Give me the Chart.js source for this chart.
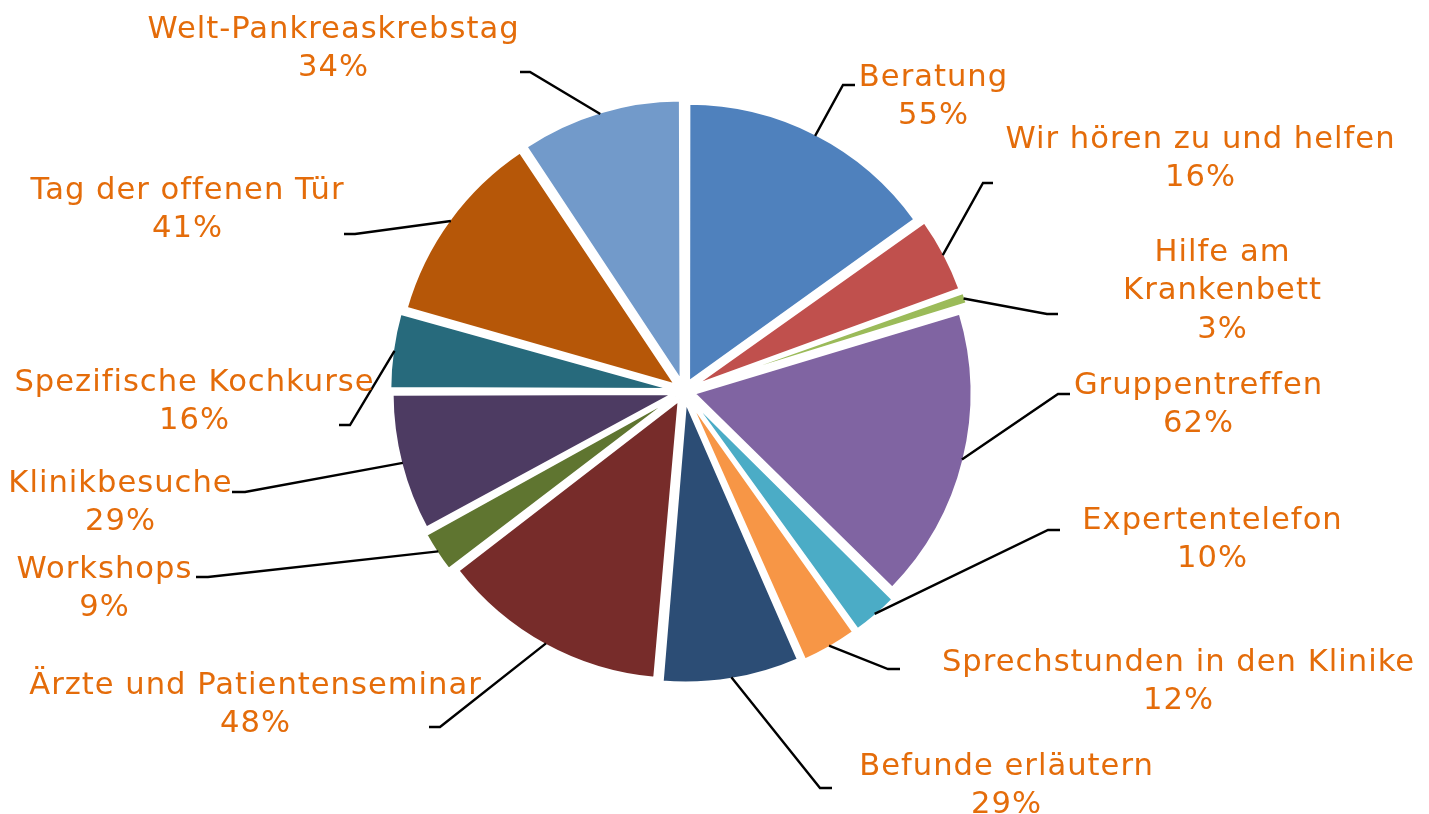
<!DOCTYPE html>
<html>
<head>
<meta charset="utf-8">
<script src="https://cdn.jsdelivr.net/npm/chart.js@4.4.1/dist/chart.umd.min.js"></script>
<style>
html,body{margin:0;padding:0;background:#fff;}
#wrap{width:1429px;height:814px;position:relative;}
</style>
</head>
<body>
<div id="wrap"><canvas id="c" width="1429" height="814"></canvas></div>
<script>
// ---- data ----
const categories = ['Beratung','Wir hören zu und helfen','Hilfe am Krankenbett','Gruppentreffen','Expertentelefon','Sprechstunden in den Klinike','Befunde erläutern','Ärzte und Patientenseminar','Workshops','Klinikbesuche','Spezifische Kochkurse','Tag der offenen Tür','Welt-Pankreaskrebstag'];
const values = [55,16,3,62,10,12,29,48,9,29,16,41,34];
const percentLabels = ['55%','16%','3%','62%','10%','12%','29%','48%','9%','29%','16%','41%','34%'];

// ---- styles ----
const colors = ['#4F81BD','#C0504D','#9BBB59','#8064A2','#4BACC6','#F79646','#2C4D75','#772C2A','#5F7530','#4D3B62','#276A7C','#B65708','#729ACA'];
const labelColor = '#E46C0A';
const labelFont = '30.6px "DejaVu Sans", Verdana, sans-serif';
const lineHeight = 38.5;

// ---- label layout (text block centre x, first line centre y, elbow x/y, tail end x) ----
const labelLayout = [
  {cx:933, y:78,  ex:843, ey:85,  tx:855},
  {cx:1200,y:140, ex:983, ey:183, tx:993},
  {cx:1222,y:253, ex:1047,ey:314, tx:1058, lines:['Hilfe am','Krankenbett']},
  {cx:1198,y:386, ex:1058,ey:394, tx:1070},
  {cx:1212,y:521, ex:1048,ey:530, tx:1060},
  {cx:1178,y:663, ex:888, ey:669, tx:900},
  {cx:1006,y:767, ex:820, ey:788, tx:832},
  {cx:255, y:686, ex:440, ey:727, tx:429},
  {cx:104, y:570, ex:208, ey:577, tx:196},
  {cx:120, y:484, ex:245, ey:492, tx:232},
  {cx:194, y:383, ex:350, ey:425, tx:339},
  {cx:187, y:191, ex:355, ey:234, tx:344},
  {cx:333, y:30,  ex:530, ey:72,  tx:520}
];

const explode = 10; // px translation of each slice

const labelPlugin = {
  id:'pieLabels',
  afterDatasetsDraw(chart){
    const ctx = chart.ctx;
    const meta = chart.getDatasetMeta(0);
    ctx.save();
    meta.data.forEach((arc,i)=>{
      const p = arc.getProps(['x','y','startAngle','endAngle','outerRadius'],true);
      const mid = (p.startAngle+p.endAngle)/2;
      const circ = p.endAngle - p.startAngle;
      const fix = 1 - Math.sin(Math.min(Math.PI, circ));
      const L = labelLayout[i];
      const r = p.outerRadius + explode * (1 + fix) - 2;
      const sx = p.x + Math.cos(mid)*r;
      const sy = p.y + Math.sin(mid)*r;
      ctx.beginPath();
      ctx.strokeStyle = '#000';
      ctx.lineWidth = 2.4;
      ctx.lineJoin = 'miter';
      ctx.moveTo(sx,sy);
      ctx.lineTo(L.ex,L.ey);
      ctx.lineTo(L.tx,L.ey);
      ctx.stroke();
      const lines = (L.lines || [categories[i]]).concat([percentLabels[i]]);
      ctx.fillStyle = labelColor;
      ctx.font = labelFont;
      try { ctx.letterSpacing = '1px'; } catch(e) {}
      ctx.textAlign = 'center';
      ctx.textBaseline = 'middle';
      lines.forEach((t,k)=>ctx.fillText(t, L.cx + 0.5, L.y + k*lineHeight));
    });
    ctx.restore();
  }
};

new Chart(document.getElementById('c'), {
  type:'pie',
  data:{
    labels:categories,
    datasets:[{
      data:values,
      backgroundColor:colors,
      borderColor:'#ffffff',
      borderWidth:3,
      offset:explode*4
    }]
  },
  options:{
    responsive:false,
    animation:false,
    radius:277,
    layout:{padding:{left:0,top:0,right:61,bottom:32}},
    plugins:{legend:{display:false},tooltip:{enabled:false}}
  },
  plugins:[labelPlugin]
});
</script>
</body>
</html>
